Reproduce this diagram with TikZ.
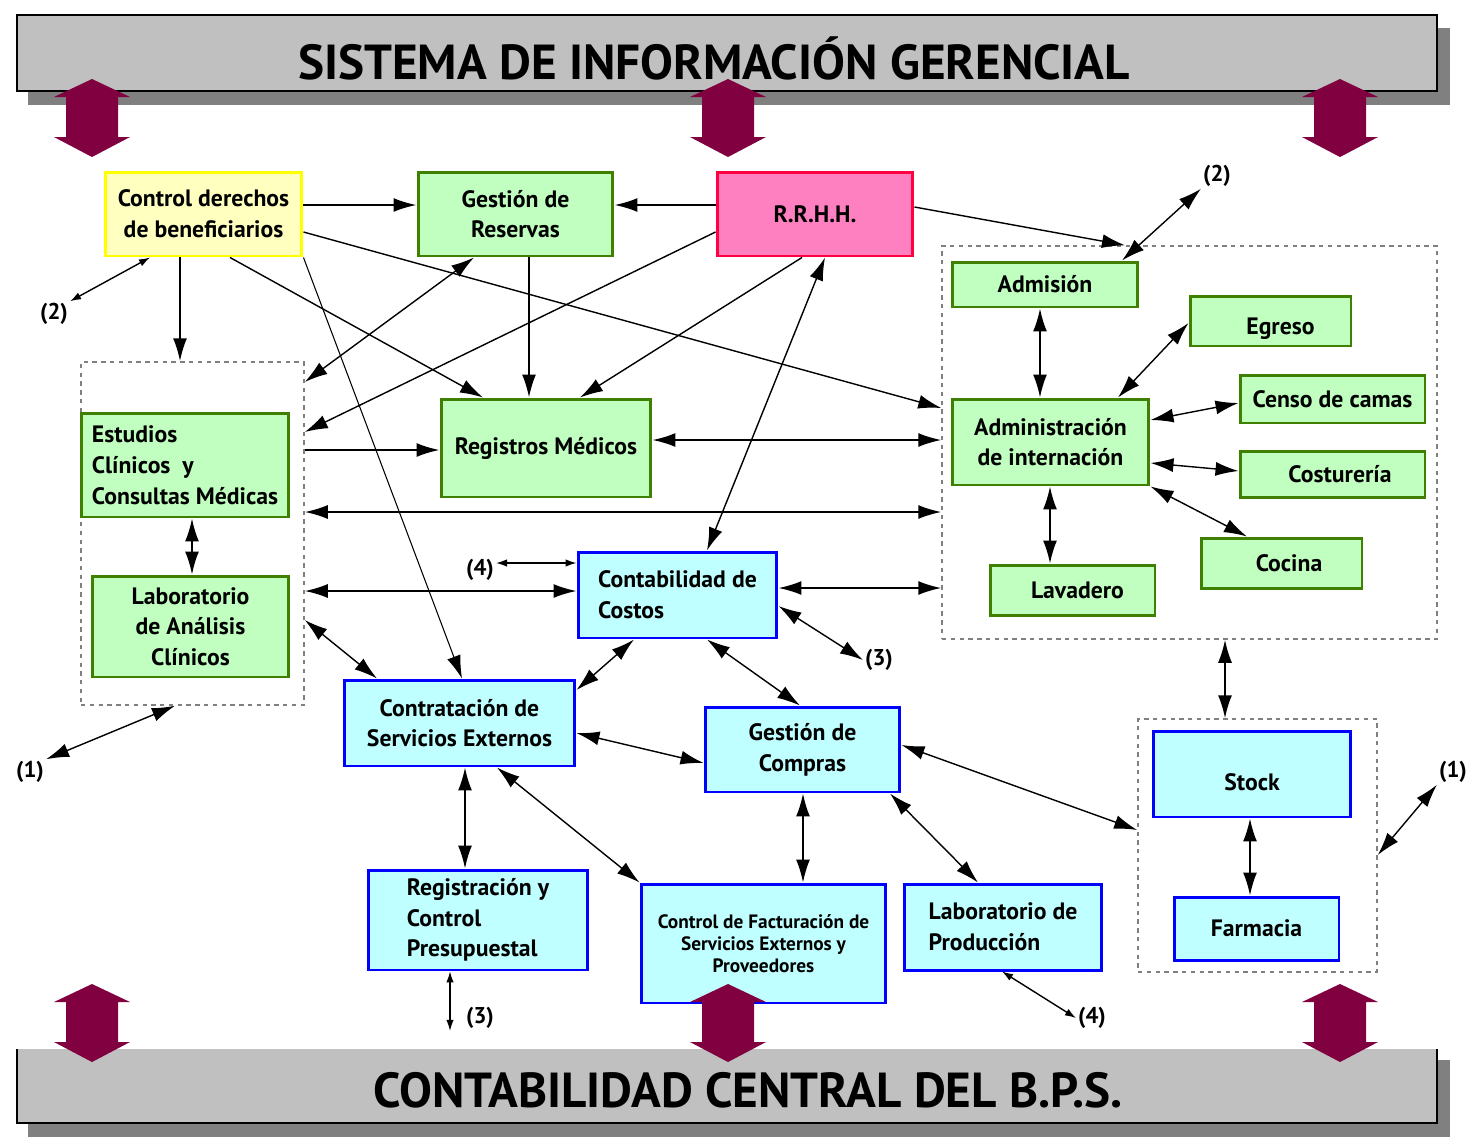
\documentclass[tikz,border=0pt]{standalone}
\usepackage{fontspec}
\setmainfont{PT Sans}
\usetikzlibrary{arrows.meta}
\definecolor{sigreen}{RGB}{64,128,0}
\definecolor{sigreenfill}{RGB}{192,255,192}
\definecolor{siblue}{RGB}{0,0,255}
\definecolor{sibluefill}{RGB}{192,255,255}
\definecolor{siyellow}{RGB}{255,255,0}
\definecolor{siyellowfill}{RGB}{255,255,192}
\definecolor{sired}{RGB}{255,0,64}
\definecolor{sipink}{RGB}{255,128,192}
\definecolor{sigray}{RGB}{192,192,192}
\definecolor{sishadow}{RGB}{128,128,128}
\definecolor{simaroon}{RGB}{128,0,64}
\newcommand{\lowtext}[1]{\raisebox{-0.16cm}[\height][\depth]{#1}}

\begin{document}
\begin{tikzpicture}[x=0.02cm, y=-0.02cm,
  hisbox/.style={rectangle, line width=1.7pt, inner sep=1pt, align=center,
    font=\fontsize{13.5}{17.5}\selectfont\bfseries},
  greenbox/.style={hisbox, draw=sigreen, fill=sigreenfill},
  bluebox/.style={hisbox, draw=siblue, fill=sibluefill},
  yellowbox/.style={hisbox, draw=siyellow, fill=siyellowfill},
  pinkbox/.style={hisbox, draw=sired, fill=sipink},
  grpbox/.style={draw=sishadow, line width=0.9pt, dash pattern=on 2.5pt off 2.5pt, inner sep=0pt},
  title/.style={font=\fontsize{28}{32}\selectfont\bfseries},
  lbl/.style={font=\fontsize{13}{15}\selectfont\bfseries, inner sep=1pt},
  link/.style={line width=1.1pt, -{Latex[length=4.6mm,width=2.8mm]}},
  dlink/.style={line width=1pt, {Latex[length=4.6mm,width=2.8mm]}-{Latex[length=4.6mm,width=2.8mm]}},
  slim/.style={line width=0.6pt, {Latex[length=2.2mm,width=1.5mm]}-{Latex[length=2.2mm,width=1.5mm]}},
]
\useasboundingbox (0,0) rectangle (1475,1137);
\fill[white] (0,0) rectangle (1475,1137);

% Banners
\fill[sishadow] (28,28) rectangle (1450,105);
\filldraw[fill=sigray, draw=black, line width=1.6pt] (17,15) rectangle (1437,91);
\node[title] (sig) at (714,58) {SISTEMA DE INFORMACIÓN GERENCIAL};
\fill[sishadow] (28,1060) rectangle (1450,1137);
\fill[sigray] (17,1049) rectangle (1437,1123);
\draw[line width=1.6pt] (17,1049) -- (17,1123) -- (1437,1123) -- (1437,1049);
\node[title] (bps) at (748,1090) {CONTABILIDAD CENTRAL DEL B.P.S.};

% Groups
\node[grpbox, minimum width=4.46cm, minimum height=6.86cm] (grpL) at (192.5,533.5) {};
\node[grpbox, minimum width=9.9cm, minimum height=7.86cm] (grpR) at (1189.5,442.5) {};
\node[grpbox, minimum width=4.78cm, minimum height=5.06cm] (grpS) at (1257.5,845.5) {};

% Top row
\node[yellowbox, minimum width=3.94cm, minimum height=1.68cm] (ctrl) at (203.5,214) {Control derechos\\de beneficiarios};
\node[greenbox, minimum width=3.9cm, minimum height=1.68cm] (res) at (515.5,214) {Gestión de\\Reservas};
\node[pinkbox, minimum width=3.92cm, minimum height=1.68cm] (rrhh) at (815,214) {R.R.H.H.};

% Internacion
\node[greenbox, minimum width=3.72cm, minimum height=0.9cm] (adm) at (1045,284.5) {Admisión};
\node[greenbox, minimum width=3.22cm, minimum height=1cm] (egr) at (1270.5,321) {\hspace{0.4cm}\lowtext{Egreso}};
\node[greenbox, minimum width=3.7cm, minimum height=0.96cm] (censo) at (1332.5,399) {Censo de camas};
\node[greenbox, minimum width=3.94cm, minimum height=1.72cm] (admint) at (1050.5,442) {Administración\\de internación};
\node[greenbox, minimum width=3.7cm, minimum height=0.92cm] (cost) at (1332.5,474) {\hspace{0.3cm}Costurería};
\node[greenbox, minimum width=3.22cm, minimum height=1cm] (coc) at (1281.5,563) {\hspace{0.3cm}Cocina};
\node[greenbox, minimum width=3.3cm, minimum height=1cm] (lav) at (1072.5,590) {\hspace{0.2cm}Lavadero};

% Estudios
\node[greenbox, align=left, minimum width=4.16cm, minimum height=2.08cm] (est) at (185,465) {Estudios\\ Clínicos \ y\\ Consultas Médicas};
\node[greenbox, minimum width=3.94cm, minimum height=2.02cm] (lab) at (190.5,626.5) {Laboratorio\\de Análisis\\Clínicos};
\node[greenbox, minimum width=4.2cm, minimum height=1.96cm] (reg) at (546,448) {Registros Médicos};

% Contabilidad
\node[bluebox, align=left, minimum width=3.98cm, minimum height=1.72cm] (cont) at (677.5,595) {Contabilidad de\\Costos};
\node[bluebox, minimum width=3.9cm, minimum height=1.7cm] (compras) at (802.5,749.5) {Gestión de\\Compras};
\node[bluebox, minimum width=4.62cm, minimum height=1.72cm] (contr) at (459.5,723) {Contratación de\\Servicios Externos};
\node[bluebox, align=left, minimum width=4.4cm, minimum height=2cm] (presu) at (478,920) {Registración y\\Control\\Presupuestal};
\node[bluebox, font=\fontsize{11}{12.5}\selectfont\bfseries, minimum width=4.9cm, minimum height=2.38cm] (fact) at (763.5,943.5) {Control de Facturación de\\Servicios Externos y\\Proveedores};
\node[bluebox, align=left, minimum width=3.96cm, minimum height=1.72cm] (labp) at (1003,927) {Laboratorio de\\Producción};
\node[bluebox, minimum width=3.96cm, minimum height=1.72cm] (stock) at (1252,774) {\lowtext{Stock}};
\node[bluebox, minimum width=3.3cm, minimum height=1.26cm] (farm) at (1256.5,928.5) {Farmacia};

% Labels
\node[lbl] (n2a) at (54,314) {(2)};
\node[lbl] (n2b) at (1217,176) {(2)};
\node[lbl] (n1a) at (30,772) {(1)};
\node[lbl] (n1b) at (1453,772) {(1)};
\node[lbl] (n4a) at (480,570) {(4)};
\node[lbl] (n3a) at (879,660) {(3)};
\node[lbl] (n3b) at (480,1018) {(3)};
\node[lbl] (n4b) at (1092,1018) {(4)};

% From control / reservas / rrhh
\draw[link] (ctrl.east |- 0,205) -- (res.west |- 0,205);
\draw[link] (rrhh.west |- 0,205) -- (res.east |- 0,205);
\draw[slim, line width=0.8pt] (ctrl.south -| 150,0) -- (n2a.north east);
\draw[link] (ctrl.south -| 180,0) -- (grpL.north -| 180,0);
\draw[link, line width=0.8pt] (ctrl.south -| 230,0) -- (reg.north -| 483,0);
\draw[link, line width=0.6pt] (ctrl.south east) -- (contr.north -| 462,0);
\draw[link, line width=0.8pt] (ctrl.east |- 0,232) -- (grpR.west |- 0,408);
\draw[link] (res.south -| 529,0) -- (reg.north -| 529,0);
\draw[dlink, line width=0.8pt] (res.south -| 474,0) -- (grpL.east |- 0,382);
\draw[link, line width=0.8pt] (rrhh.west |- 0,232) -- (grpL.east |- 0,432);
\draw[link, line width=0.8pt] (rrhh.south -| 802,0) -- (reg.north -| 580,0);
\draw[dlink, line width=0.8pt] (rrhh.south -| 825,0) -- (cont.north -| 707,0);
\draw[link, line width=0.8pt] (rrhh.east |- 0,207) -- (grpR.north -| 1125,0);
\draw[dlink, line width=0.8pt] (adm.north -| 1122,0) -- (n2b.south west);

% Left side
\draw[link] (grpL.east |- 0,450) -- (reg.west |- 0,450);
\draw[dlink] (reg.east |- 0,440) -- (grpR.west |- 0,440);
\draw[dlink] (grpR.west |- 0,512) -- (grpL.east |- 0,512);
\draw[dlink] (est.south -| 192,0) -- (lab.north -| 192,0);
\draw[dlink] (grpL.east |- 0,591) -- (cont.west |- 0,591);
\draw[slim, line width=0.8pt] (n4a.east |- 0,563) -- (cont.west |- 0,563);
\draw[dlink, line width=0.8pt] (grpL.east |- 0,620) -- (contr.north -| 377,0);
\draw[dlink, line width=0.8pt] (grpL.south -| 175,0) -- (n1a.north east);

% Contabilidad
\draw[dlink] (cont.east |- 0,588) -- (grpR.west |- 0,588);
\draw[dlink, line width=0.8pt] (cont.east |- 0,606) -- (n3a.west);
\draw[dlink, line width=0.8pt] (cont.south -| 634,0) -- (contr.east |- 0,690);
\draw[dlink, line width=0.8pt] (cont.south -| 707,0) -- (compras.north -| 800,0);
\draw[dlink, line width=0.8pt] (contr.east |- 0,733) -- (compras.west |- 0,763);
\draw[dlink] (contr.south -| 465,0) -- (presu.north -| 465,0);
\draw[dlink, line width=0.8pt] (contr.south -| 497,0) -- (fact.north west);
\draw[dlink] (compras.south -| 803,0) -- (fact.north -| 803,0);
\draw[dlink, line width=0.8pt] (compras.south -| 890,0) -- (labp.north -| 978,0);
\draw[dlink, line width=0.8pt] (compras.east |- 0,745) -- (grpS.west |- 0,830);
\draw[slim] (presu.south -| 450,0) -- (n3b.south -| 450,0);
\draw[slim, line width=0.8pt] (labp.south -| 1002,0) -- (n4b.west);

% Internacion
\draw[dlink] (adm.south -| 1040,0) -- (admint.north -| 1040,0);
\draw[dlink, line width=0.8pt] (admint.north -| 1118,0) -- (egr.west |- 0,323);
\draw[dlink, line width=0.8pt] (admint.east |- 0,420) -- (censo.west |- 0,403);
\draw[dlink, line width=0.8pt] (admint.east |- 0,463) -- (cost.west |- 0,471);
\draw[dlink, line width=0.8pt] (admint.south east) -- (coc.north -| 1247,0);
\draw[dlink] (admint.south -| 1050,0) -- (lav.north -| 1050,0);
\draw[dlink] (grpR.south -| 1225,0) -- (grpS.north -| 1225,0);
\draw[dlink] (stock.south -| 1250,0) -- (farm.north -| 1250,0);
\draw[dlink, line width=0.8pt] (grpS.east |- 0,855) -- (n1b.south west);

% Big arrows to the banners
\foreach \x/\y in {92/79, 728/79, 1340/79, 92/984, 728/984, 1340/984} {
  \fill[simaroon] (\x,\y) -- ++(38,18) -- ++(-12,0) -- ++(0,40) -- ++(12,0)
    -- ++(-38,20) -- ++(-38,-20) -- ++(12,0) -- ++(0,-40) -- ++(-12,0) -- cycle;
}
\end{tikzpicture}
\end{document}
